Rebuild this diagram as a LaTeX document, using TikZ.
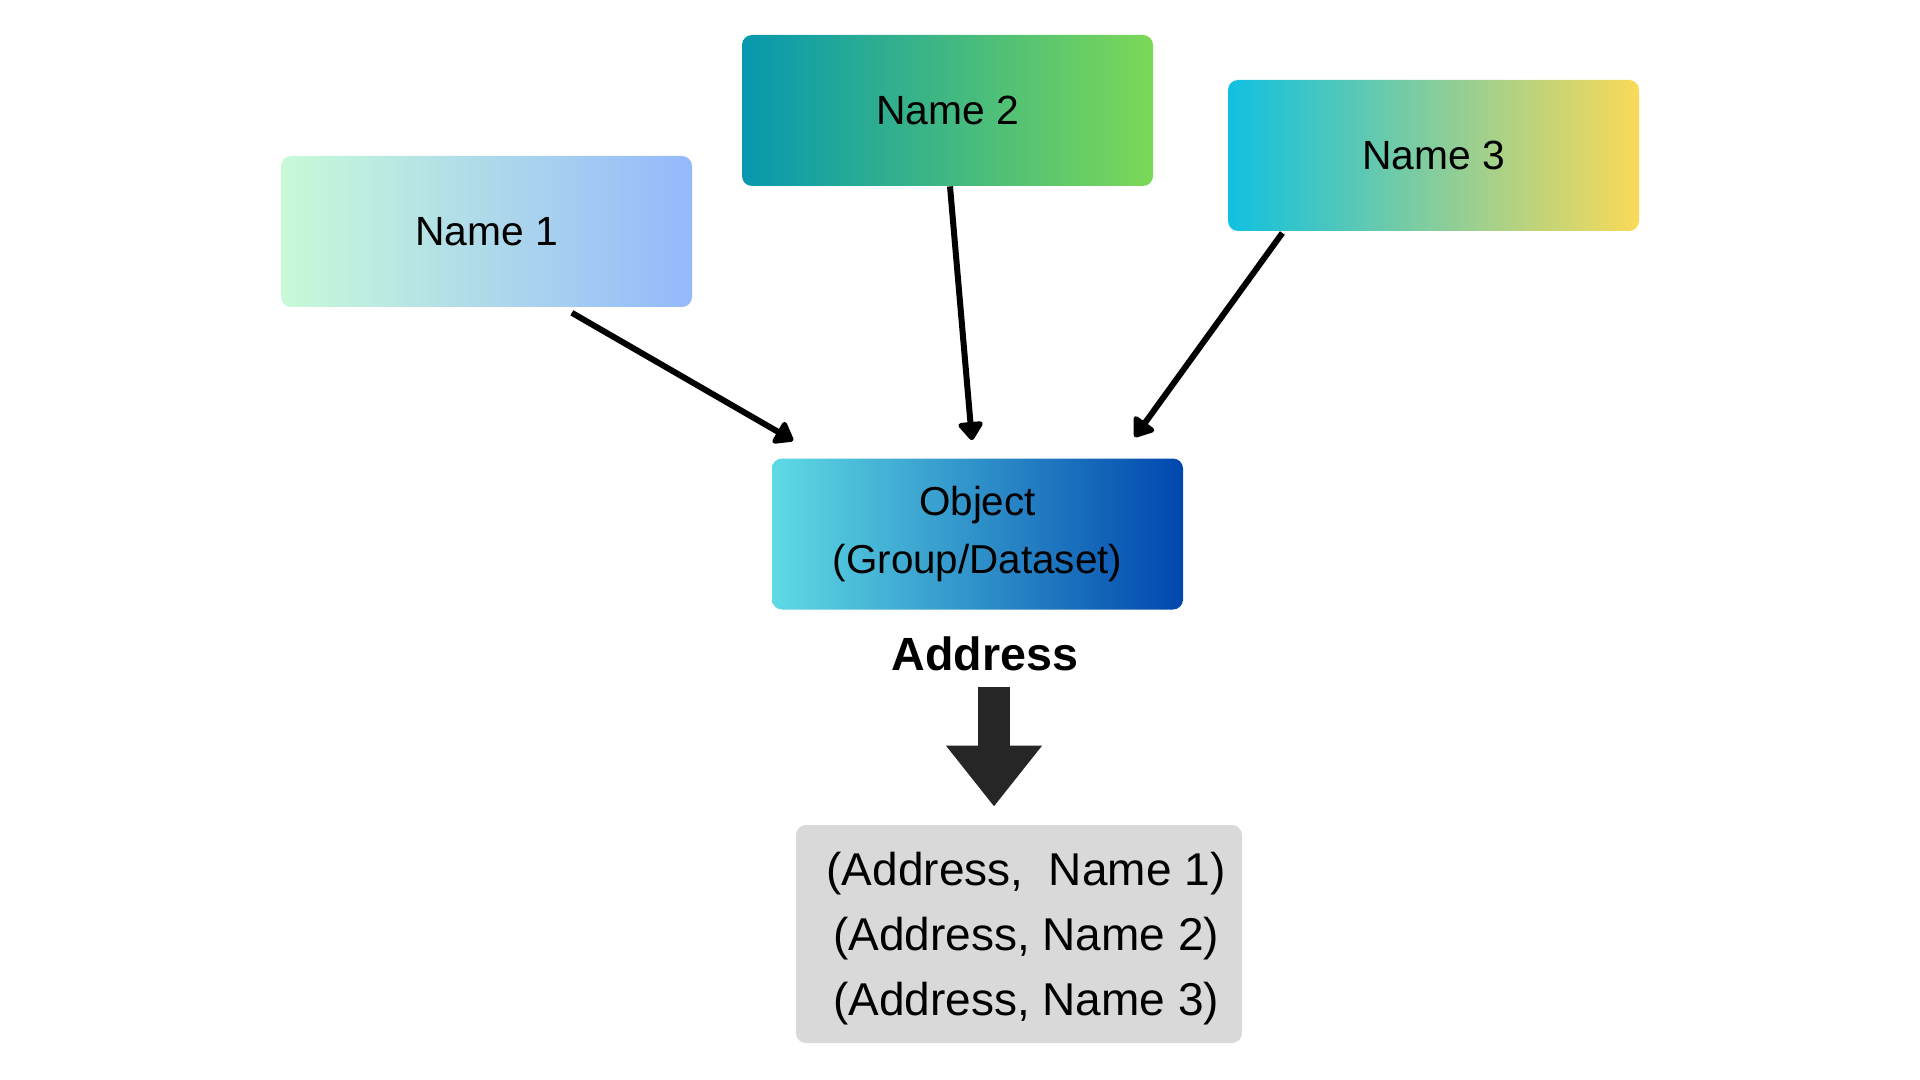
\documentclass[tikz,border=0pt]{standalone}
\usepackage{fontspec}
\setmainfont{Liberation Sans}
\usetikzlibrary{arrows.meta}
\definecolor{mintleft}{RGB}{200, 250, 216}
\definecolor{skyright}{RGB}{148, 185, 252}
\definecolor{tealleft}{RGB}{6, 152, 174}
\definecolor{limeright}{RGB}{124, 216, 87}
\definecolor{cyanleft}{RGB}{16, 192, 224}
\definecolor{sunright}{RGB}{250, 218, 88}
\definecolor{aqualeft}{RGB}{94, 218, 228}
\definecolor{navyright}{RGB}{0, 71, 174}
\definecolor{resultgray}{RGB}{217, 217, 217}
\definecolor{arrowgray}{RGB}{38, 38, 38}
\tikzset{
  basebox/.style={rounded corners=5pt, minimum width=205.5pt, minimum height=75.5pt, inner sep=0pt},
  namebox/.style={basebox, font=\fontsize{20.4}{24}\selectfont},
  objbox/.style={basebox, align=center, font=\fontsize{20.2}{29}\selectfont},
  resbox/.style={rounded corners=5pt, minimum width=223pt, minimum height=109pt, inner sep=0pt, fill=resultgray, align=center, font=\fontsize{23}{32.5}\selectfont},
  link/.style={-{Triangle[length=10pt, width=14pt, round]}, line width=3pt, black},
  bigarrow/.style={-{Triangle[length=30.5pt, width=46pt]}, line width=16pt, draw=arrowgray},
}
\begin{document}
\begin{tikzpicture}[x=0.5pt, y=-0.5pt]
  \useasboundingbox (0,0) rectangle (1920,1080);
  % the three names
  \node[namebox, left color=mintleft, right color=skyright] (name1) at (486.5,231.5) {Name 1};
  \node[namebox, left color=tealleft, right color=limeright] (name2) at (947.5,110.5) {Name 2};
  \node[namebox, left color=cyanleft, right color=sunright] (name3) at (1433.5,155.5) {Name 3};
  % object and its address
  \node[objbox, left color=aqualeft, right color=navyright] (obj) at (977.5,534) {Object\\(Group/Dataset)};
  \node[anchor=base, inner sep=0pt, font=\fontsize{23.3}{27}\selectfont\bfseries] (addr) at (985,670) {Address};
  \node[resbox] (res) at (1019,934) {\rule{0pt}{21.5pt}\hspace{7pt}(Address,~ Name 1)\\\hspace{7pt}(Address, Name 2)\\\hspace{7pt}(Address, Name 3)};
  % links
  \draw[link, shorten <=5.4pt, shorten >=17.5pt] ([xshift=38pt]name1.south) -- ([xshift=-77pt]obj.north);
  \draw[link, shorten >=9pt] ([xshift=1.25pt]name2.south) -- ([xshift=-2pt]obj.north);
  \draw[link, shorten <=1pt, shorten >=13pt] ([xshift=-75pt]name3.south) -- ([xshift=71pt]obj.north);
  \draw[bigarrow, shorten <=8pt, shorten >=9pt] ([xshift=4.5pt]addr.south) -- ([xshift=-12.5pt]res.north);
\end{tikzpicture}
\end{document}
